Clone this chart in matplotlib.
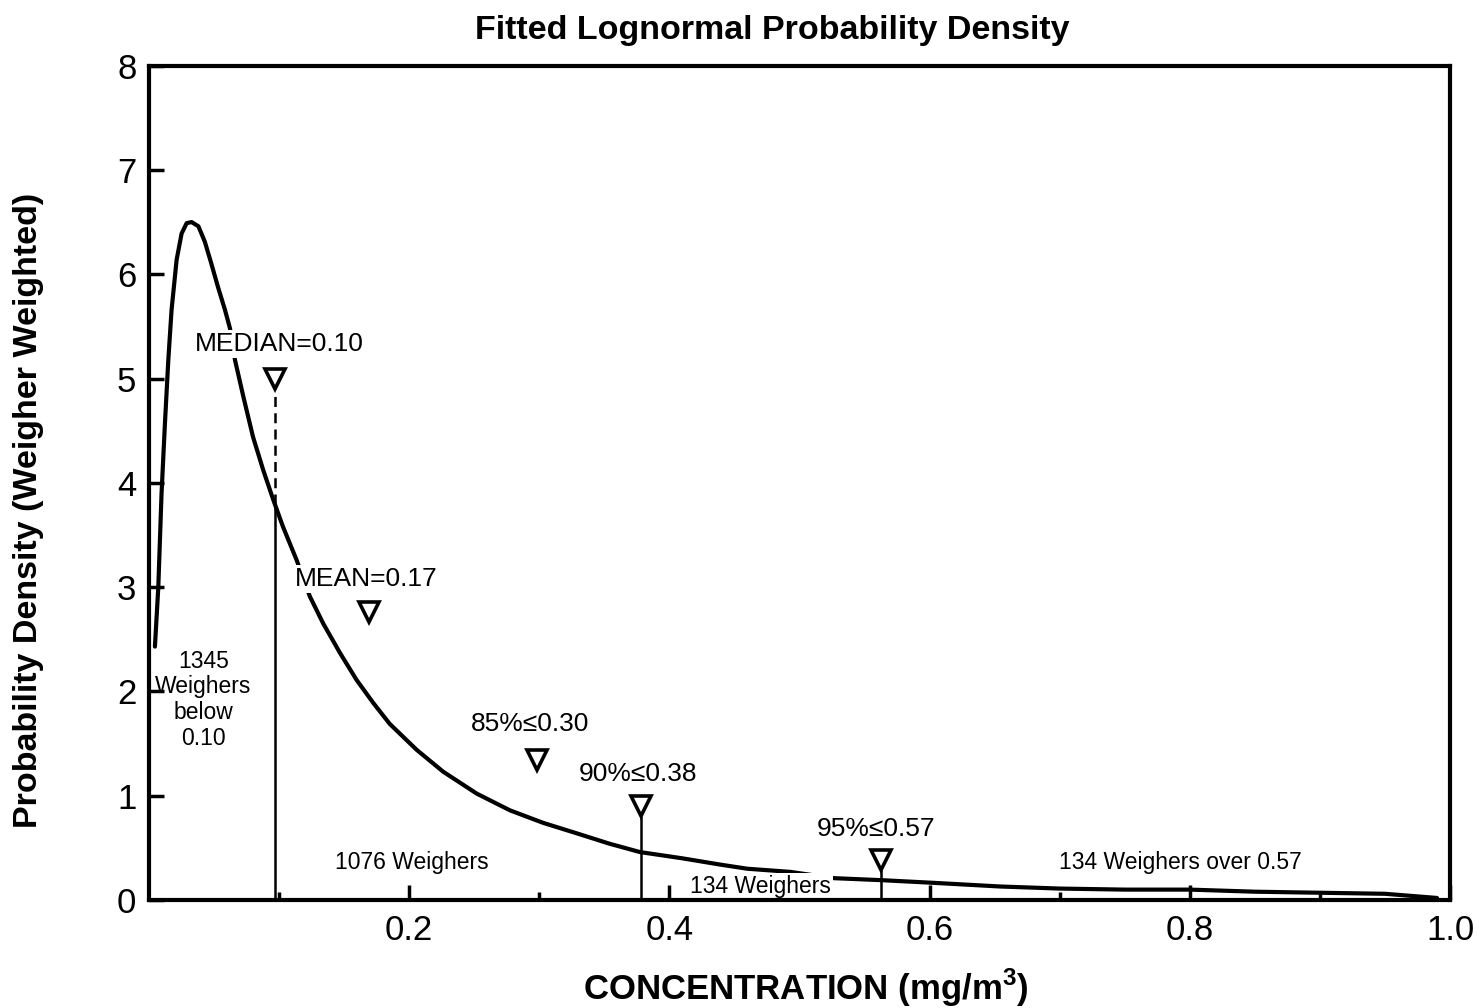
import matplotlib.pyplot as plt

plt.rcParams['font.family'] = ['Liberation Sans', 'DejaVu Sans']
plt.rcParams['mathtext.fontset'] = 'custom'
plt.rcParams['mathtext.rm'] = 'Liberation Sans'
plt.rcParams['mathtext.bf'] = 'Liberation Sans:bold'

# fitted lognormal density
conc = [0.0046, 0.0072, 0.0097, 0.0123, 0.0149, 0.0174, 0.0213, 0.0251, 0.0290, 0.0328,
        0.0380, 0.0430, 0.0480, 0.0530, 0.0584, 0.0623, 0.0661, 0.0725, 0.0800, 0.0879,
        0.0955, 0.1030, 0.1135, 0.1237, 0.1340, 0.1468, 0.1596, 0.1724, 0.1850, 0.2058,
        0.2262, 0.2520, 0.2775, 0.3030, 0.3287, 0.3540, 0.3774, 0.4100, 0.4390, 0.4600,
        0.4930, 0.5260, 0.5640, 0.6030, 0.6540, 0.7000, 0.7500, 0.8000, 0.8500, 0.9000,
        0.9500, 0.9900]
density = [2.43, 3.00, 3.90, 4.57, 5.18, 5.66, 6.14, 6.39, 6.49, 6.50,
           6.46, 6.31, 6.10, 5.88, 5.66, 5.48, 5.18, 4.83, 4.44, 4.12,
           3.84, 3.58, 3.26, 2.91, 2.65, 2.37, 2.11, 1.89, 1.69, 1.44,
           1.23, 1.02, 0.86, 0.74, 0.64, 0.54, 0.46, 0.40, 0.34, 0.30,
           0.27, 0.21, 0.19, 0.165, 0.13, 0.11, 0.10, 0.10, 0.08, 0.07,
           0.06, 0.02]

# statistic markers
stat_labels = ['MEDIAN=0.10', 'MEAN=0.17', '85%≤0.30', '90%≤0.38', '95%≤0.57']
stat_x = [0.097, 0.169, 0.298, 0.378, 0.563]
stat_marker_y = [5.0, 2.76, 1.34, 0.90, 0.38]
stat_label_x = [0.100, 0.167, 0.293, 0.376, 0.559]
stat_label_y = [5.33, 3.08, 1.69, 1.21, 0.68]

median_curve_y = 3.80

# group counts
group_labels = ['1345\nWeighers\nbelow\n0.10', '1076 Weighers', '134 Weighers',
                '134 Weighers over 0.57']
group_x = [0.042, 0.202, 0.470, 0.793]
group_y = [1.92, 0.36, 0.134, 0.36]

fig = plt.figure(figsize=(14.79, 10.08), dpi=100)
ax = fig.add_axes([0.1007, 0.1071, 0.8797, 0.8278])

ax.plot(conc, density, color='black', linewidth=3, zorder=3,
        solid_joinstyle='round', solid_capstyle='round')

# vertical reference lines
ax.plot([stat_x[0], stat_x[0]], [0, median_curve_y], color='black', linewidth=1.8, zorder=2)
ax.plot([stat_x[0], stat_x[0]], [median_curve_y, stat_marker_y[0] - 0.12],
        color='black', linewidth=1.8, linestyle=(0, (4, 2.5)), zorder=2)
for i in (3, 4):
    ax.plot([stat_x[i], stat_x[i]], [0, stat_marker_y[i] - 0.1],
            color='black', linewidth=1.8, zorder=2)

ax.plot(stat_x, stat_marker_y, linestyle='none', marker='v', markersize=15,
        markerfacecolor='white', markeredgecolor='black', markeredgewidth=2.6, zorder=5)

box = dict(facecolor='white', edgecolor='none', pad=1.5)
for lab, x, y in zip(stat_labels, stat_label_x, stat_label_y):
    ax.text(x, y, lab, ha='center', va='center', fontsize=19, bbox=box, zorder=4)
for i, (lab, x, y) in enumerate(zip(group_labels, group_x, group_y)):
    ax.text(x, y, lab, ha='center', va='center', fontsize=16.5,
            linespacing=1.15, bbox=box if i > 0 else None, zorder=4)

ax.set_xlim(0, 1.0)
ax.set_ylim(0, 8)
ax.set_xticks([0.2, 0.4, 0.6, 0.8, 1.0])
ax.set_xticklabels(['0.2', '0.4', '0.6', '0.8', '1.0'])
ax.set_xticks([0.1, 0.3, 0.5, 0.7, 0.9], minor=True)
ax.set_yticks(range(0, 9))
ax.tick_params(axis='both', which='major', direction='in', length=11, width=2.5,
               labelsize=25, pad=9)
ax.tick_params(axis='x', which='minor', direction='in', length=6, width=2.5)
ax.tick_params(axis='x', which='major', pad=10)
for s in ax.spines.values():
    s.set_linewidth(3)
    s.set_zorder(6)

fig.text(0.522, 0.970, 'Fitted Lognormal Probability Density', ha='center', va='center',
         fontsize=24.5, fontweight='bold')
fig.text(0.545, 0.020, r'CONCENTRATION (mg/m$^{\mathbf{3}}$)', ha='center', va='center',
         fontsize=25, fontweight='bold')
fig.text(0.019, 0.494, 'Probability Density (Weigher Weighted)', ha='center', va='center',
         rotation=90, fontsize=24.5, fontweight='bold')

fig.savefig('out.png', dpi=100)
